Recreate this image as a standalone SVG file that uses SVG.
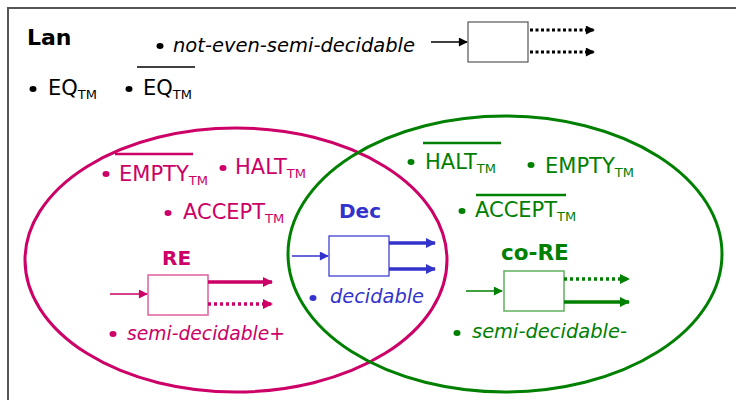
<svg xmlns="http://www.w3.org/2000/svg" width="736" height="400" viewBox="0 0 736 400">
  <defs>
    <style>
      text { font-family: "DejaVu Sans", "Liberation Sans", sans-serif; }
      .lbl { font-size: 21px; }
      .it { font-size: 20px; font-style: italic; }
      .ttl { font-size: 20px; font-weight: bold; }
      .sub { font-size: 13px; }
      .blk { fill: #000; }
      .mag { fill: #CC0066; }
      .grn { fill: #008000; }
      .blu { fill: #3333CC; }
      .frame { fill: none; stroke: #555; stroke-width: 2; }
      .set { fill: none; stroke-width: 3; }
      .box { fill: #fff; }
      .thin { stroke-width: 1.5; fill: none; }
      .thick { stroke-width: 3.5; fill: none; }
      .dot { stroke-width: 3.5; fill: none; stroke-dasharray: 3 3; }
    </style>
    <marker id="ahK" viewBox="0 0 10 10" refX="9" refY="5" markerUnits="userSpaceOnUse" markerWidth="10" markerHeight="9" orient="auto"><path d="M0,0 L10,5 L0,10 z" fill="#000"/></marker>
    <marker id="ahM" viewBox="0 0 10 10" refX="9" refY="5" markerUnits="userSpaceOnUse" markerWidth="10" markerHeight="9" orient="auto"><path d="M0,0 L10,5 L0,10 z" fill="#CC0066"/></marker>
    <marker id="ahB" viewBox="0 0 10 10" refX="9" refY="5" markerUnits="userSpaceOnUse" markerWidth="10" markerHeight="9" orient="auto"><path d="M0,0 L10,5 L0,10 z" fill="#3333CC"/></marker>
    <marker id="ahG" viewBox="0 0 10 10" refX="9" refY="5" markerUnits="userSpaceOnUse" markerWidth="10" markerHeight="9" orient="auto"><path d="M0,0 L10,5 L0,10 z" fill="#008000"/></marker>
    <marker id="ahBig" viewBox="0 0 10 10" refX="9" refY="5" markerUnits="userSpaceOnUse" markerWidth="12" markerHeight="10" orient="auto"><path d="M0,0 L10,5 L0,10 z" fill="context-stroke"/></marker>
  </defs>

  <rect width="736" height="400" fill="#fff"/>
  <!-- universe of languages -->
  <path class="frame" d="M8,400 V8 H736"/>
  <text class="ttl blk" x="27" y="45" style="font-size:22px">Lan</text>

  <!-- set outlines -->
  <ellipse id="re-set" class="set" cx="236" cy="260" rx="211" ry="132" stroke="#CC0066"/>
  <ellipse id="core-set" class="set" cx="505" cy="254" rx="217" ry="138" stroke="#008000"/>

  <!-- outside both sets -->
  <g id="not-semi">
    <ellipse cx="160" cy="46" rx="3.5" ry="3" class="blk"/>
    <text class="it blk" x="173" y="52" textLength="242" lengthAdjust="spacingAndGlyphs">not-even-semi-decidable</text>
  </g>
  <g id="eq">
    <ellipse cx="33" cy="89" rx="3.5" ry="3" class="blk"/>
    <text class="lbl blk" x="48" y="95">EQ<tspan class="sub" dy="4">TM</tspan></text>
  </g>
  <g id="eq-co">
    <ellipse cx="129" cy="89" rx="3.5" ry="3" class="blk"/>
    <line x1="137" y1="67" x2="195" y2="67" stroke="#000" stroke-width="1.5"/>
    <text class="lbl blk" x="143" y="95">EQ<tspan class="sub" dy="4">TM</tspan></text>
  </g>

  <!-- RE side -->
  <g id="empty-co">
    <ellipse cx="106" cy="174" rx="3.5" ry="3" class="mag"/>
    <line x1="115" y1="154" x2="193" y2="154" stroke="#CC0066" stroke-width="2.5"/>
    <text class="lbl mag" x="119" y="181">EMPTY<tspan class="sub" dy="4">TM</tspan></text>
  </g>
  <g id="halt">
    <ellipse cx="223" cy="168" rx="3.5" ry="3" class="mag"/>
    <text class="lbl mag" x="235" y="174">HALT<tspan class="sub" dy="4">TM</tspan></text>
  </g>
  <g id="accept">
    <ellipse cx="168" cy="213" rx="3.5" ry="3" class="mag"/>
    <text class="lbl mag" x="183" y="219">ACCEPT<tspan class="sub" dy="4">TM</tspan></text>
  </g>
  <g id="re">
    <text class="ttl mag" x="162" y="265">RE</text>
    <rect x="148" y="275" width="60" height="40" class="box" stroke="#E0609F" stroke-width="1.5"/>
    <ellipse cx="113" cy="334" rx="3.5" ry="3" class="mag"/>
    <text class="it mag" x="127" y="340" textLength="158" lengthAdjust="spacingAndGlyphs">semi-decidable+</text>
  </g>

  <!-- decidable -->
  <g id="dec">
    <text class="ttl blu" x="339" y="218">Dec</text>
    <rect x="329" y="236" width="60" height="40" class="box" stroke="#3333CC" stroke-width="1.2"/>
    <ellipse cx="313" cy="298" rx="3.5" ry="3" class="blu"/>
    <text class="it blu" x="330" y="303" textLength="94" lengthAdjust="spacingAndGlyphs">decidable</text>
  </g>

  <!-- co-RE side -->
  <g id="halt-co">
    <ellipse cx="411" cy="162" rx="3.5" ry="3" class="grn"/>
    <line x1="423" y1="143" x2="501" y2="143" stroke="#008000" stroke-width="2.5"/>
    <text class="lbl grn" x="425" y="169">HALT<tspan class="sub" dy="4">TM</tspan></text>
  </g>
  <g id="empty">
    <ellipse cx="531" cy="165" rx="3.5" ry="3" class="grn"/>
    <text class="lbl grn" x="545" y="173">EMPTY<tspan class="sub" dy="4">TM</tspan></text>
  </g>
  <g id="accept-co">
    <ellipse cx="462" cy="211" rx="3.5" ry="3" class="grn"/>
    <line x1="476" y1="195" x2="566" y2="195" stroke="#008000" stroke-width="2.5"/>
    <text class="lbl grn" x="475" y="217">ACCEPT<tspan class="sub" dy="4">TM</tspan></text>
  </g>
  <g id="core">
    <text class="ttl grn" x="501" y="260" style="font-size:21.5px">co-RE</text>
    <rect x="504" y="271" width="60" height="40" class="box" stroke="#60B060" stroke-width="1.5"/>
    <ellipse cx="457" cy="333" rx="3.5" ry="3" class="grn"/>
    <text class="it grn" x="472" y="338" textLength="155" lengthAdjust="spacingAndGlyphs">semi-decidable-</text>
  </g>

  <!-- machine box for the outside case -->
  <g id="nosemi-box">
    <rect x="468" y="22" width="60" height="40" class="box" stroke="#555" stroke-width="1.2"/>
  </g>

  <!-- connectors -->
  <g id="connectors">
    <line x1="431" y1="42" x2="467" y2="42" stroke="#000" class="thin" marker-end="url(#ahK)"/>
    <line x1="530" y1="30" x2="594" y2="30" stroke="#000" stroke-width="3" stroke-dasharray="3 2.5" fill="none" marker-end="url(#ahK)"/>
    <line x1="530" y1="52" x2="594" y2="52" stroke="#000" stroke-width="3" stroke-dasharray="3 2.5" fill="none" marker-end="url(#ahK)"/>

    <line x1="110" y1="294" x2="147" y2="294" stroke="#CC0066" class="thin" marker-end="url(#ahM)"/>
    <line x1="208" y1="282" x2="272" y2="282" stroke="#CC0066" class="thick" marker-end="url(#ahBig)"/>
    <line x1="208" y1="304" x2="272" y2="304" stroke="#CC0066" class="dot" marker-end="url(#ahBig)"/>

    <line x1="292" y1="256" x2="328" y2="256" stroke="#3333CC" class="thin" marker-end="url(#ahB)"/>
    <line x1="389" y1="243" x2="435" y2="243" stroke="#3333CC" class="thick" marker-end="url(#ahBig)"/>
    <line x1="389" y1="269" x2="435" y2="269" stroke="#3333CC" class="thick" marker-end="url(#ahBig)"/>

    <line x1="466" y1="291" x2="502" y2="291" stroke="#008000" class="thin" marker-end="url(#ahG)"/>
    <line x1="564" y1="279" x2="629" y2="279" stroke="#008000" class="dot" marker-end="url(#ahBig)"/>
    <line x1="564" y1="302" x2="629" y2="302" stroke="#008000" class="thick" marker-end="url(#ahBig)"/>
  </g>
</svg>
